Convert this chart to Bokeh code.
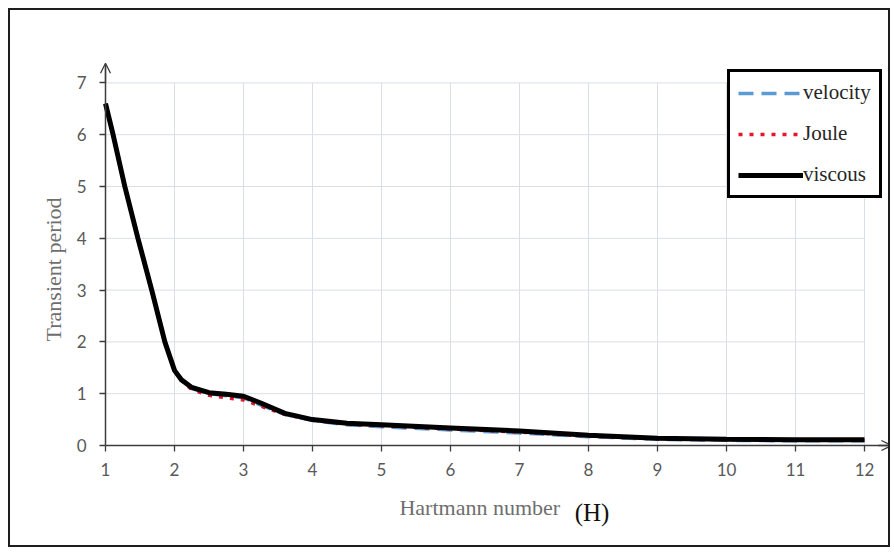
import math
from bokeh.plotting import figure
from bokeh.models import (Range1d, FixedTicker, Label, Arrow, OpenHead, Legend, LegendItem)
from bokeh.embed import file_html
from bokeh.resources import INLINE

# ---- data ----
hartmann = [1, 1.11, 1.28, 1.47, 1.67, 1.86, 2, 2.1, 2.25, 2.5, 2.75, 3, 3.25, 3.6, 4, 4.5, 5, 6, 7, 8, 9, 10, 11, 12]
viscous = [6.6, 6.0, 5.0, 4.0, 3.0, 2.0, 1.45, 1.27, 1.12, 1.02, 0.99, 0.95, 0.82, 0.62, 0.5, 0.43, 0.4, 0.34, 0.28, 0.2, 0.14, 0.12, 0.11, 0.11]
velocity = [6.6, 6.0, 5.0, 4.0, 3.0, 2.0, 1.44, 1.26, 1.1, 1.0, 0.96, 0.92, 0.78, 0.6, 0.48, 0.4, 0.36, 0.3, 0.24, 0.17, 0.12, 0.1, 0.09, 0.09]
joule = [6.6, 6.0, 5.0, 4.0, 3.0, 2.0, 1.44, 1.25, 1.08, 0.97, 0.92, 0.88, 0.76, 0.6, 0.49, 0.41, 0.38, 0.32, 0.26, 0.18, 0.13, 0.11, 0.1, 0.1]

x_ticks = [1, 2, 3, 4, 5, 6, 7, 8, 9, 10, 11, 12]
y_ticks = [0, 1, 2, 3, 4, 5, 6, 7]

x_title = "Hartmann number"
x_symbol = "(H)"
y_title = "Transient period"

GRID = "#d9dfe7"
TICK_TXT = "#595959"
AXIS = "#3c3c3c"

# frame covers the whole canvas; axes are pinned at x=1 / y=0
p = figure(width=882, height=539, output_backend="svg", toolbar_location=None,
           x_range=Range1d(-0.377, 12.406), y_range=Range1d(-2.008, 8.398),
           min_border=0)
p.styles = {"margin-left": "8px", "margin-top": "8px", "border": "2px solid #1e1e1e"}
p.outline_line_color = None
p.xgrid.visible = False
p.ygrid.visible = False

# grid lines limited to the data area (x 1..12, y 0..7)
nx = len(x_ticks) - 1
ny = len(y_ticks) - 1
p.segment(x0=x_ticks[1:], y0=[y_ticks[0]] * nx, x1=x_ticks[1:], y1=[y_ticks[-1]] * nx,
          line_color=GRID, line_width=1)
p.segment(x0=[x_ticks[0]] * ny, y0=y_ticks[1:], x1=[x_ticks[-1]] * ny, y1=y_ticks[1:],
          line_color=GRID, line_width=1)

r_vel = p.line(hartmann, velocity, line_color="#5b9bd5", line_width=3.5, line_dash="15 8")
r_jou = p.line(hartmann, joule, line_color="#e3162b", line_width=3.5, line_dash="4 7")
r_vis = p.line(hartmann, viscous, line_color="black", line_width=5)

for ax in (p.xaxis[0], p.yaxis[0]):
    ax.axis_line_color = AXIS
    ax.axis_line_width = 1.5
    ax.major_tick_line_color = AXIS
    ax.major_tick_line_width = 1.3
    ax.minor_tick_line_color = None
    ax.major_tick_in = 0
    ax.major_tick_out = 6
    ax.major_label_text_font = "Lato"
    ax.major_label_text_font_size = "17px"
    ax.major_label_text_color = TICK_TXT

p.xaxis.fixed_location = 0
p.yaxis.fixed_location = 1
p.xaxis.bounds = (1, 12.38)
p.yaxis.bounds = (0, 7.36)
p.xaxis.ticker = FixedTicker(ticks=x_ticks)
p.yaxis.ticker = FixedTicker(ticks=y_ticks)
p.xaxis.major_label_standoff = 12
p.yaxis.major_label_standoff = 13

# arrow heads of axes
p.add_layout(Arrow(end=OpenHead(size=10, line_color=AXIS, line_width=1.3),
                   x_start=12.2, y_start=0, x_end=12.39, y_end=0, line_color=AXIS, line_width=1.3))
p.add_layout(Arrow(end=OpenHead(size=10, line_color=AXIS, line_width=1.3),
                   x_start=1, y_start=7.0, x_end=1, y_end=7.38, line_color=AXIS, line_width=1.3))

# axis titles
p.add_layout(Label(x=5.26, y=-1.2, text=x_title, text_font="Liberation Serif", text_font_size="22px",
                   text_color="#6e6e6e", text_align="left", text_baseline="middle"))
p.add_layout(Label(x=7.8, y=-1.29, text=x_symbol, text_font="Liberation Serif", text_font_size="25px",
                   text_color="#111111", text_align="left", text_baseline="middle"))
p.add_layout(Label(x=0.24, y=3.4, text=y_title, text_font="Liberation Serif", text_font_size="22px",
                   text_color="#6e6e6e", text_align="center", text_baseline="middle", angle=math.pi / 2))

legend = Legend(items=[LegendItem(label="velocity", renderers=[r_vel]),
                       LegendItem(label="Joule", renderers=[r_jou]),
                       LegendItem(label="viscous", renderers=[r_vis])],
                location=(717, 351))
legend.border_line_color = "black"
legend.border_line_alpha = 1
legend.border_line_width = 3
legend.background_fill_color = "white"
legend.background_fill_alpha = 1
legend.label_text_font = "Liberation Serif"
legend.label_text_font_size = "21px"
legend.label_text_color = "#262626"
legend.glyph_width = 65
legend.glyph_height = 24
legend.label_standoff = 0
legend.spacing = 16
legend.padding = 8
legend.margin = 0
p.add_layout(legend)

open("out.html", "w").write(file_html(p, INLINE))
